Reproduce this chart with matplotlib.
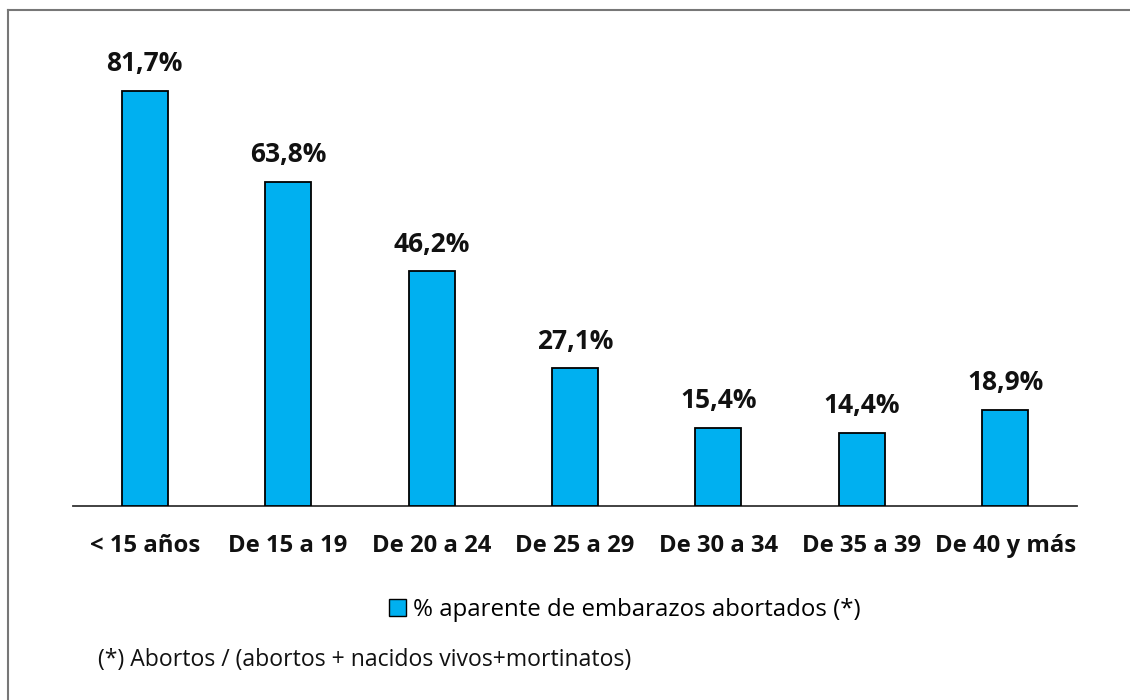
import matplotlib
matplotlib.use("Agg")
import matplotlib.pyplot as plt
from matplotlib.lines import Line2D
from matplotlib.patches import Patch

categories = ["< 15 años", "De 15 a 19", "De 20 a 24", "De 25 a 29",
              "De 30 a 34", "De 35 a 39", "De 40 y más"]
values = [81.7, 63.8, 46.2, 27.1, 15.4, 14.4, 18.9]
labels = ["81,7%", "63,8%", "46,2%", "27,1%", "15,4%", "14,4%", "18,9%"]
series_name = "% aparente de embarazos abortados (*)"
footnote = "(*) Abortos / (abortos + nacidos vivos+mortinatos)"

plt.rcParams['font.family'] = ['Open Sans', 'DejaVu Sans']

W, H = 1130, 700
fig = plt.figure(figsize=(W / 100, H / 100), dpi=100)
ax = fig.add_axes([73 / W, (H - 506) / H, (1077 - 73) / W, (506 - 49) / H])

color = "#00B0F0"
x = list(range(len(categories)))
bars = ax.bar(x, values, width=0.32, color=color, edgecolor="black", linewidth=1.3, zorder=3)
ax.set_xlim(-0.5, len(categories) - 0.5)
ax.set_ylim(0, 90)

for xi, v, lab in zip(x, values, labels):
    ax.annotate(lab, (xi, v), xytext=(0, 10), textcoords="offset points",
                ha="center", va="bottom", fontsize=19, fontweight="bold", color="#111111")

for s in ["top", "right", "left"]:
    ax.spines[s].set_visible(False)
ax.spines["bottom"].set_color("#333333")
ax.spines["bottom"].set_linewidth(1.3)
ax.set_yticks([])
ax.set_xticks(x)
ax.set_xticklabels(categories, fontsize=17.2, fontweight="bold", color="#111111")
ax.tick_params(axis="x", length=0, pad=20)

handle = Patch(facecolor=color, edgecolor="black", linewidth=1.0)
fig.legend([handle], [series_name], loc="center", bbox_to_anchor=(625 / W, 1 - 610 / H),
           frameon=False, fontsize=17.3, handlelength=0.7, handleheight=0.7, handletextpad=0.3)

fig.text(98 / W, 1 - 660 / H, footnote, fontsize=16.6, ha="left", va="center", color="#111111")

# Outer frame (top and left)
fig.add_artist(Line2D([8 / W, 1.0], [1 - 10 / H, 1 - 10 / H], transform=fig.transFigure,
                      color="#777777", linewidth=1.5))
fig.add_artist(Line2D([8 / W, 8 / W], [0, 1 - 10 / H], transform=fig.transFigure,
                      color="#777777", linewidth=1.5))

fig.savefig("out.png", dpi=100, facecolor="white")
